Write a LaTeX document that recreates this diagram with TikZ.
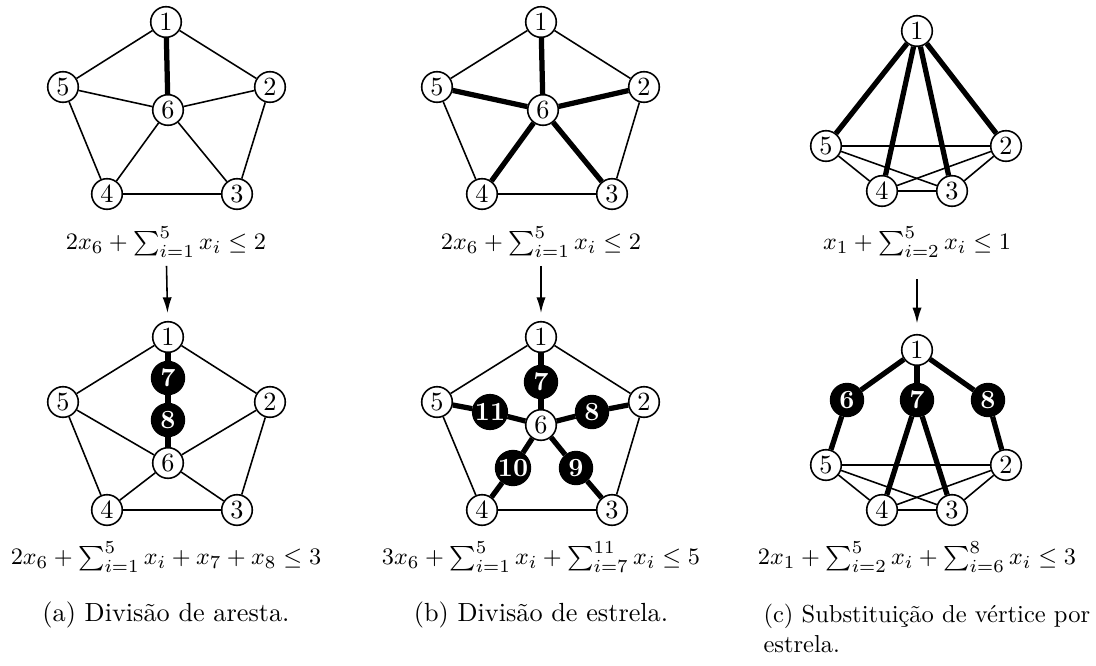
\documentclass[tikz,border=0pt]{standalone}
\usepackage{fontspec}
\usepackage{amsmath}
\usepackage{amssymb}
\usepackage{tikz}
\usetikzlibrary{arrows.meta}

\begin{document}
\begin{tikzpicture}[
    x=0.0134cm, y=-0.0134cm,
    every node/.style={font=\normalsize},
    vtx/.style={circle, draw=black, fill=white, line width=0.6pt,
        minimum size=4.1mm, inner sep=0pt},
    newvtx/.style={circle, draw=black, fill=black, text=white,
        line width=0.6pt, minimum size=4.4mm, inner sep=0pt,
        font=\normalsize\bfseries},
    edge/.style={draw=black, line width=0.6pt},
    heavy/.style={draw=black, line width=2pt},
    ineq/.style={inner sep=2pt, font=\fontsize{9.3pt}{11pt}\selectfont},
    step arrow/.style={-{Latex[length=6pt,width=3.5pt]}, line width=0.6pt},
    capt/.style={text width=4.45cm, align=left, inner sep=0pt}
]
\useasboundingbox (0,0) rectangle (1096,665);

% (a) divisao de aresta, antes
\node[vtx] (at1) at (166, 22) {1};
\node[vtx] (at2) at (270, 87) {2};
\node[vtx] (at3) at (237,194) {3};
\node[vtx] (at4) at (107,194) {4};
\node[vtx] (at5) at ( 63, 87) {5};
\node[vtx] (at6) at (168,110) {6};
\draw[edge]  (at1) -- (at2) -- (at3) -- (at4) -- (at5) -- (at1);
\draw[edge]  (at6) -- (at2);
\draw[edge]  (at6) -- (at3);
\draw[edge]  (at6) -- (at4);
\draw[edge]  (at6) -- (at5);
\draw[heavy] (at1) -- (at6);
\node[ineq] (aq1) at (166,242) {$2x_6 + \sum_{i=1}^{5} x_i \leq 2$};

% (a) depois
\node[vtx]    (ab1) at (168,337) {1};
\node[vtx]    (ab2) at (270,402) {2};
\node[vtx]    (ab3) at (237,510) {3};
\node[vtx]    (ab4) at (107,510) {4};
\node[vtx]    (ab5) at ( 63,402) {5};
\node[vtx]    (ab6) at (168,463) {6};
\node[newvtx] (ab7) at (168,378) {7};
\node[newvtx] (ab8) at (168,420) {8};
\draw[edge]  (ab1) -- (ab2) -- (ab3) -- (ab4) -- (ab5) -- (ab1);
\draw[edge]  (ab6) -- (ab2);
\draw[edge]  (ab6) -- (ab3);
\draw[edge]  (ab6) -- (ab4);
\draw[edge]  (ab6) -- (ab5);
\draw[heavy] (ab1) -- (ab7) -- (ab8) -- (ab6);
\node[ineq] (aq2) at (166,557) {$2x_6 + \sum_{i=1}^{5} x_i + x_7 + x_8 \leq 3$};
\draw[step arrow, shorten <=1pt, shorten >=3pt] (aq1) -- (ab1);
\node[capt, text width=3.6cm, align=center] (acap) at (166,615)
    {(a) Divis\~ao de aresta.};

% (b) divisao de estrela, antes
\node[vtx] (bt1) at (541, 22) {1};
\node[vtx] (bt2) at (644, 87) {2};
\node[vtx] (bt3) at (612,194) {3};
\node[vtx] (bt4) at (482,194) {4};
\node[vtx] (bt5) at (437, 87) {5};
\node[vtx] (bt6) at (543,110) {6};
\draw[edge]  (bt1) -- (bt2) -- (bt3) -- (bt4) -- (bt5) -- (bt1);
\draw[heavy] (bt6) -- (bt1);
\draw[heavy] (bt6) -- (bt2);
\draw[heavy] (bt6) -- (bt3);
\draw[heavy] (bt6) -- (bt4);
\draw[heavy] (bt6) -- (bt5);
\node[ineq] (bq1) at (541,242) {$2x_6 + \sum_{i=1}^{5} x_i \leq 2$};

% (b) depois
\node[vtx]    (bb1)  at (541,337) {1};
\node[vtx]    (bb2)  at (644,402) {2};
\node[vtx]    (bb3)  at (612,510) {3};
\node[vtx]    (bb4)  at (482,510) {4};
\node[vtx]    (bb5)  at (437,402) {5};
\node[vtx]    (bb6)  at (541,425) {6};
\node[newvtx] (bb7)  at (541,382) {7};
\node[newvtx] (bb8)  at (592,412) {8};
\node[newvtx] (bb9)  at (576,468) {9};
\node[newvtx] (bb10) at (513,468) {10};
\node[newvtx] (bb11) at (490,412) {11};
\draw[edge]  (bb1) -- (bb2) -- (bb3) -- (bb4) -- (bb5) -- (bb1);
\draw[heavy] (bb1) -- (bb7)  -- (bb6);
\draw[heavy] (bb2) -- (bb8)  -- (bb6);
\draw[heavy] (bb3) -- (bb9)  -- (bb6);
\draw[heavy] (bb4) -- (bb10) -- (bb6);
\draw[heavy] (bb5) -- (bb11) -- (bb6);
\node[ineq] (bq2) at (541,557)
    {$3x_6 + \sum_{i=1}^{5} x_i + \sum_{i=7}^{11} x_i \leq 5$};
\draw[step arrow, shorten <=1pt, shorten >=3pt] (bq1) -- (bb1);
\node[capt, text width=3.6cm, align=center] (bcap) at (541,615)
    {(b) Divis\~ao de estrela.};

% (c) substituicao de vertice por estrela, antes
\node[vtx] (ct1) at (917, 31) {1};
\node[vtx] (ct2) at (1006,146) {2};
\node[vtx] (ct3) at (952,191) {3};
\node[vtx] (ct4) at (882,191) {4};
\node[vtx] (ct5) at (826,146) {5};
\draw[edge]  (ct5) -- (ct2);
\draw[edge]  (ct5) -- (ct4);
\draw[edge]  (ct5) -- (ct3);
\draw[edge]  (ct2) -- (ct4);
\draw[edge]  (ct2) -- (ct3);
\draw[edge]  (ct4) -- (ct3);
\draw[heavy] (ct1) -- (ct2);
\draw[heavy] (ct1) -- (ct3);
\draw[heavy] (ct1) -- (ct4);
\draw[heavy] (ct1) -- (ct5);
\node[ineq] (cq1) at (917,242) {$x_1 + \sum_{i=2}^{5} x_i \leq 1$};

% (c) depois
\node[vtx]    (cb1) at (917,350) {1};
\node[vtx]    (cb2) at (1006,465) {2};
\node[vtx]    (cb3) at (952,510) {3};
\node[vtx]    (cb4) at (882,510) {4};
\node[vtx]    (cb5) at (826,465) {5};
\node[newvtx] (cb6) at (847,400) {6};
\node[newvtx] (cb7) at (917,400) {7};
\node[newvtx] (cb8) at (988,400) {8};
\draw[edge]  (cb5) -- (cb2);
\draw[edge]  (cb5) -- (cb4);
\draw[edge]  (cb5) -- (cb3);
\draw[edge]  (cb2) -- (cb4);
\draw[edge]  (cb2) -- (cb3);
\draw[edge]  (cb4) -- (cb3);
\draw[heavy] (cb1) -- (cb6) -- (cb5);
\draw[heavy] (cb1) -- (cb8) -- (cb2);
\draw[heavy] (cb1) -- (cb7);
\draw[heavy] (cb7) -- (cb4);
\draw[heavy] (cb7) -- (cb3);
\node[ineq] (cq2) at (917,557)
    {$2x_1 + \sum_{i=2}^{5} x_i + \sum_{i=6}^{8} x_i \leq 3$};
\draw[step arrow, shorten <=6pt, shorten >=4pt] (cq1) -- (cb1);
\node[capt, text width=5cm, anchor=north west,
    scale=0.935, transform shape] (ccap) at (763,604)
    {(c) Substitui\c{c}\~ao de v\'ertice por\\estrela.};
\end{tikzpicture}
\end{document}
